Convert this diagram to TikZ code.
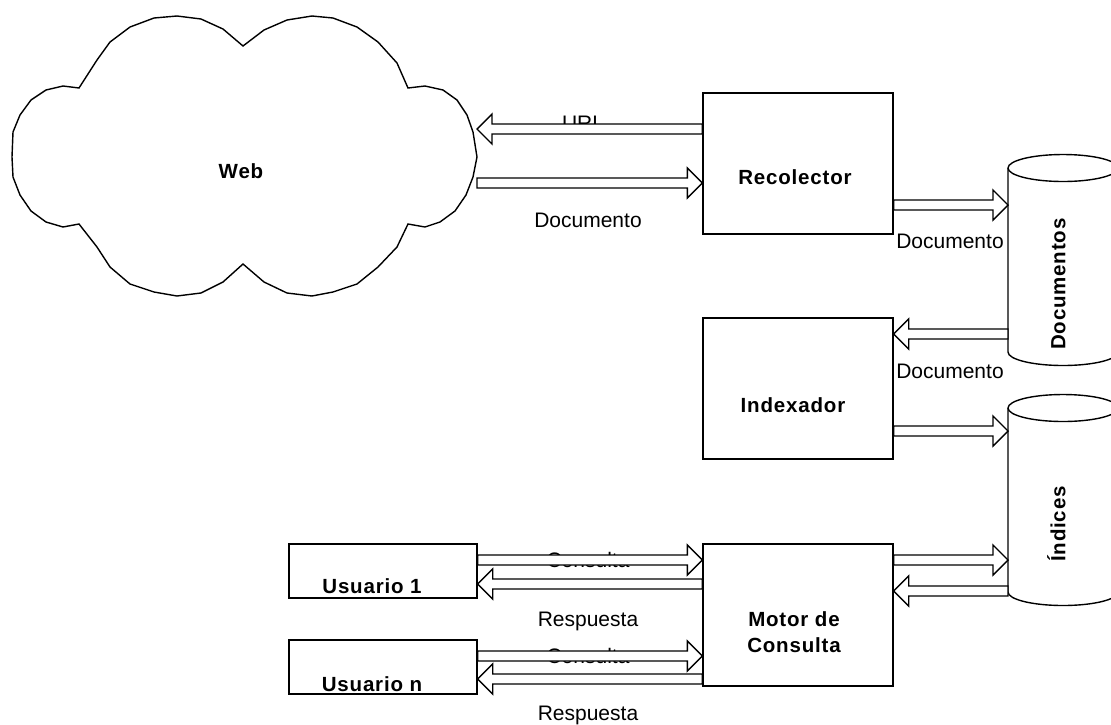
\documentclass[tikz,border=0pt]{standalone}
\usepackage{fontspec}
\setmainfont{Liberation Sans}
\newfontfamily\boxfont[LetterSpace=4]{Liberation Sans}
\usetikzlibrary{calc}
\tikzset{
  ln/.style={line width=1.4pt, line join=miter},
  box/.style={ln, draw, fill=white, inner sep=0pt, minimum width=190pt, minimum height=141pt},
  ubox/.style={ln, draw, fill=white, inner sep=0pt, minimum width=188pt, minimum height=54pt},
  btxt/.style={font=\boxfont\bfseries\fontsize{20.5}{26}\selectfont, inner sep=0pt, text height=14.7pt, text depth=0pt},
  mtxt/.style={font=\boxfont\bfseries\fontsize{20.5}{26}\selectfont, inner sep=0pt, align=center},
  lbl/.style={font=\fontsize{21}{24}\selectfont, inner sep=0pt, text height=15pt, text depth=0pt},
  arr/.style={ln, draw, fill=white},
  cyl/.style={ln, draw, fill=white}
}
\newcommand\barrow[2]{%
  \draw[arr] let \p1=(#1), \p2=(#2), \n1={sign(\x2-\x1)} in
    (\x1,\y1+5pt) -- ({\x2-\n1*15pt},\y1+5pt) -- ({\x2-\n1*15pt},\y1+15pt)
    -- (\x2,\y1) -- ({\x2-\n1*15pt},\y1-15pt) -- ({\x2-\n1*15pt},\y1-5pt)
    -- (\x1,\y1-5pt) -- cycle;}
\newcommand\cylshape[3]{% center x, top y, bottom y
  \draw[cyl] ({#1-55},#2) -- ({#1-55},#3)
    .. controls ({#1-55},{#3+7.45}) and ({#1-30.4},{#3+13.5}) .. ({#1},{#3+13.5})
    .. controls ({#1+30.4},{#3+13.5}) and ({#1+55},{#3+7.45}) .. ({#1+55},#3)
    -- ({#1+55},#2)
    .. controls ({#1+55},{#2-7.45}) and ({#1+30.4},{#2-13.5}) .. ({#1},{#2-13.5})
    .. controls ({#1-30.4},{#2-13.5}) and ({#1-55},{#2-7.45}) .. ({#1-55},#2) -- cycle;
  \draw[ln] ({#1-55},#2)
    .. controls ({#1-55},{#2+7.45}) and ({#1-30.4},{#2+13.5}) .. ({#1},{#2+13.5})
    .. controls ({#1+30.4},{#2+13.5}) and ({#1+55},{#2+7.45}) .. ({#1+55},#2);}
\begin{document}
\begin{tikzpicture}[x=1pt,y=-1pt]
\useasboundingbox (0,0) rectangle (1111,724);
\clip (0,0) rectangle (1111,724);
\fill[white] (0,0) rectangle (1111,724);
% cloud
\draw[ln, fill=white] (79,88) -- (97,60) -- (110,42) -- (130,27) -- (154,18) -- (177,16) -- (201,19) -- (223,29) -- (243,46)
 -- (264,30) -- (287,20) -- (312,16) -- (333,18) -- (357,27) -- (378,42) -- (397,63) -- (408,88)
 -- (425,86) -- (443,90) -- (457,100) -- (467,115) -- (473,132) -- (477,157) -- (473,177) -- (466,195) -- (455,211) -- (440,222) -- (425,227) -- (408,224)
 -- (397,247) -- (378,267) -- (357,284) -- (333,292) -- (312,296) -- (287,293) -- (264,282) -- (243,264)
 -- (223,282) -- (201,293) -- (177,296) -- (154,292) -- (130,284) -- (110,267) -- (97,247) -- (79,224)
 -- (63,227) -- (46,222) -- (31,211) -- (20,195) -- (13,177) -- (12,157) -- (13,132) -- (20,115) -- (31,100) -- (46,90) -- (63,86) -- cycle;
\coordinate (webE) at (477,157);
\node[btxt] (web) at (241,171) {Web};
% boxes
\node[box] (rec) at (798,163.5) {};
\node[btxt] (rect) at (795,177) {Recolector};
\node[box] (idx) at (798,388.5) {};
\node[btxt] (idxt) at (793,405) {Indexador};
\node[box, minimum height=142pt] (mot) at (798,615) {};
\node[mtxt] (mott) at (794,632) {Motor de\\Consulta};
\node[ubox] (u1) at (383,571) {};
\node[btxt] (u1t) at (372,586) {Usuario 1};
\node[ubox] (un) at (383,667) {};
\node[btxt] (unt) at (372,684) {Usuario n};
% cylinders
\cylshape{1063}{168}{352}
\coordinate (docsW) at (1008,260);
\node[btxt, rotate=90] (docs) at (1058,284) {Documentos};
\cylshape{1063}{408}{592}
\coordinate (indW) at (1008,500);
\node[btxt, rotate=90] (ind) at (1058,524) {Índices};
% labels
\node[lbl] (lurl) at (583,123) {URL};
\node[lbl] (ld1) at (588,220) {Documento};
\node[lbl] (ld2) at (950,241) {Documento};
\node[lbl] (ld3) at (950,371) {Documento};
\node[lbl] (lc1) at (588,560) {Consulta};
\node[lbl] (lr1) at (588,619) {Respuesta};
\node[lbl] (lc2) at (588,656) {Consulta};
\node[lbl] (lr2) at (588,713) {Respuesta};
% arrows
\barrow{rec.west |- 0,129}{webE |- 0,129}
\barrow{webE |- 0,183}{rec.west |- 0,183}
\barrow{rec.east |- 0,205}{docsW |- 0,205}
\barrow{docsW |- 0,334}{idx.east |- 0,334}
\barrow{idx.east |- 0,431}{indW |- 0,431}
\barrow{mot.east |- 0,560}{indW |- 0,560}
\barrow{indW |- 0,591}{mot.east |- 0,591}
\barrow{u1.east |- 0,560}{mot.west |- 0,560}
\barrow{mot.west |- 0,584}{u1.east |- 0,584}
\barrow{un.east |- 0,656}{mot.west |- 0,656}
\barrow{mot.west |- 0,679}{un.east |- 0,679}
\end{tikzpicture}
\end{document}
